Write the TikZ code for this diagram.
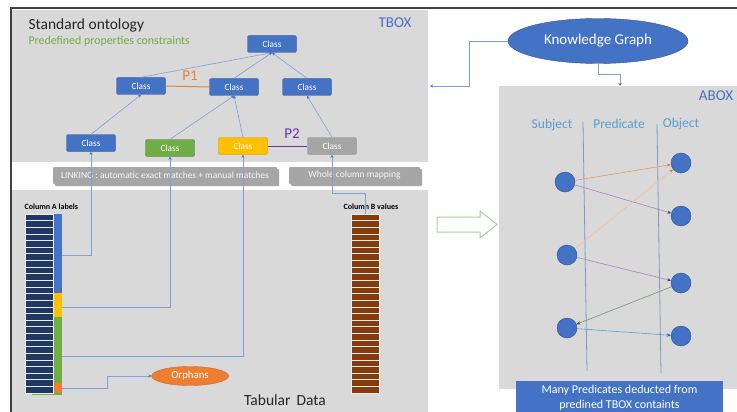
\documentclass[tikz,border=0pt]{standalone}
\usepackage{fontspec}
\setmainfont{Carlito}
\usetikzlibrary{arrows.meta,shapes.geometric}
\definecolor{cblue}{HTML}{4472C4}
\definecolor{cblued}{HTML}{2F528F}
\definecolor{cgreen}{HTML}{70AD47}
\definecolor{cyellow}{HTML}{FFC000}
\definecolor{cgray}{HTML}{A5A5A5}
\definecolor{corange}{HTML}{ED7D31}
\definecolor{cpurple}{HTML}{7030A0}
\definecolor{cnavy}{HTML}{1F3864}
\definecolor{cbrown}{HTML}{843C0C}
\definecolor{panel}{HTML}{D9D9D9}
\definecolor{connc}{HTML}{7F9FDA}
\definecolor{txtblue}{HTML}{5B9BD5}
\definecolor{lgreen}{HTML}{A9D18E}
\definecolor{framec}{HTML}{404040}
\definecolor{barc}{HTML}{A6A6A6}
\begin{document}
\begin{tikzpicture}[x=1pt,y=-1pt,
  cls/.style={rectangle,rounded corners=2pt,draw=cblued,fill=cblue,text=white,minimum width=49pt,minimum height=17pt,inner sep=0pt,font=\fontsize{9.3}{10}\selectfont},
  barbox/.style={rectangle,rounded corners=1pt,fill=barc,text=white!93!gray,minimum height=17pt,inner sep=0pt,font=\fontsize{9.5}{10}\selectfont},
  conn/.style={draw=connc,line width=0.6pt,-{Stealth[length=3pt,width=3pt,color=cblue]}},
  dot/.style={circle,fill=cblue,draw=cblued,line width=0.4pt,minimum size=20pt,inner sep=0pt},
  tri/.style={line width=0.6pt,-{Stealth[length=4pt,width=3.5pt]}},
  hdr/.style={text=txtblue,font=\fontsize{13.5}{15}\selectfont},
  rowa/.style={fill=cnavy,draw=white!85!gray,line width=0.6pt},
  rowb/.style={fill=cbrown,draw=white!85!gray,line width=0.6pt}
]
\useasboundingbox (0,0) rectangle (737,412);
\fill[white] (0,0) rectangle (737,412);
% panels
\fill[panel] (12,10) rectangle (428,162);
\fill[panel] (12,190) rectangle (428,412);
\fill[panel] (499,86) rectangle (737,389);
% frame
\draw[framec,line width=2pt] (10,8) -- (737,8);
\draw[framec,line width=1.5pt] (11,8) -- (11,412);

% TBOX texts
\node[anchor=west,font=\fontsize{15.5}{17}\selectfont,text=black!85] (std) at (25,25) {Standard ontology};
\node[anchor=west,font=\fontsize{11.9}{13}\selectfont,text=cgreen] (pre) at (25,41) {Predefined properties constraints};
\node[font=\fontsize{15}{17}\selectfont,text=cblue] (tbox) at (395,23) {TBOX};

% classes
\node[cls] (c0) at (272,44) {Class};
\node[cls] (c1) at (141,86) {Class};
\node[cls] (c2) at (234,87) {Class};
\node[cls] (c3) at (307,87) {Class};
\node[cls] (c4) at (91,143) {Class};
\node[cls,fill=cgreen,draw=cgreen!70!black] (cg) at (170,148) {Class};
\node[cls,fill=cyellow,draw=cyellow!80!black] (cy) at (243,146) {Class};
\node[cls,fill=cgray,draw=cgray!85!black] (cgr) at (332,146) {Class};

\draw[corange,line width=1pt] (c1.east) -- (c2.west);
\node[text=corange,font=\fontsize{15}{17}\selectfont] (p1) at (190,76) {P1};
\draw[cpurple,line width=1pt] (cy.east) -- (cgr.west);
\node[text=cpurple,font=\fontsize{15}{17}\selectfont] (p2) at (292,134) {P2};

\draw[conn] (c1.north) -- (c0.south);
\draw[conn] (c2.north) -- (c0.south);
\draw[conn] (c3.north) -- (c0.south);
\draw[conn] (c4.north) -- (c1.south);
\draw[conn] (cg.north) -- (c2.south);
\draw[conn] (cy.north) -- (c2.south);
\draw[conn] (cgr.north) -- (c3.south);

% linking bars
\fill[black!35,rounded corners=1pt] (55,169) rectangle (279,186);
\node[barbox,minimum width=224pt] (link) at (165,175.5) {LINKING : automatic exact matches + manual matches};
\fill[black!35,rounded corners=1pt] (291,169) rectangle (422,186);
\node[barbox,minimum width=131pt] (whole) at (354.5,175.5) {Whole column mapping};

% column A
\node[anchor=west,font=\bfseries\fontsize{8}{9}\selectfont] (cola) at (21,207) {Column A labels};
\fill[cgreen] (32,392) rectangle (62,395);
\foreach \i in {0,...,26} {
  \draw[rowa] (25,{214+\i*6.63}) rectangle (53,{214+(\i+1)*6.63});
  \draw[rowb] (351,{214+\i*6.63}) rectangle (379,{214+(\i+1)*6.63});
}
\fill[cblue] (54,214) rectangle (62,293);
\fill[cyellow] (54,293) rectangle (62,317);
\fill[cgreen] (54,317) rectangle (62,383);
\fill[corange] (54,383) rectangle (62,393);
\node[anchor=west,font=\bfseries\fontsize{8}{9}\selectfont] (colb) at (340,207) {Column B values};

\coordinate (ablue) at (62,255);
\coordinate (ayel) at (62,307);
\coordinate (agrn) at (62,356);
\coordinate (aorg) at (62,388);
\coordinate (btop) at (365,214);

\node[ellipse,fill=corange,draw=corange!85!black,line width=0.4pt,minimum width=77pt,minimum height=19pt,inner sep=0pt,text=white,font=\fontsize{10.8}{12}\selectfont] (orph) at (190,376) {Orphans};

\draw[conn] (ablue) -| (c4.south);
\draw[conn] (ayel) -| (cg.south);
\draw[conn] (agrn) -| (cy.south);
\draw[conn] (aorg) -- ++(45,0) |- (orph.west);
\draw[conn] (btop) -- ++(0,-21) -| (cgr.south);

\node[font=\fontsize{15.5}{17}\selectfont,text=black!85] (tab) at (285,400) {Tabular\, Data};

% Knowledge graph
\node[ellipse,fill=cblue,draw=cblued,line width=0.4pt,minimum width=180pt,minimum height=45pt,inner sep=0pt,text=white,font=\fontsize{15}{17}\selectfont] (kg) at (598,41) {Knowledge Graph};
\coordinate (tboxr) at (430,86);
\coordinate (aboxt) at (620,86);
\draw[conn] (kg.west) -- (469,41) -- (469,86) -- (tboxr);
\draw[conn] (kg.south) -- ++(0,11) -| (aboxt);

% ABOX
\node[font=\fontsize{15}{17}\selectfont,text=cblue] (abox) at (716,96) {ABOX};
\node[hdr] (subj) at (552,125) {Subject};
\node[hdr] (pred) at (619,124) {Predicate};
\node[hdr] (obj) at (681,124) {Object};
\draw[connc!80!gray,line width=0.8pt] (583,122) -- (587,371);
\draw[connc!80!gray,line width=0.8pt] (657,124) -- (661,373);

\node[dot] (s1) at (565,182) {};
\node[dot] (s2) at (567,255) {};
\node[dot] (s3) at (567,328) {};
\node[dot] (o1) at (681,163) {};
\node[dot] (o2) at (681,216) {};
\node[dot] (o3) at (681,283) {};
\node[dot] (o4) at (681,336) {};

\draw[tri,draw=corange!80!white,-{Stealth[length=4pt,width=3.5pt,color=corange]}] (s1) -- (o1);
\draw[tri,draw=cpurple!60!white,-{Stealth[length=4pt,width=3.5pt,color=cpurple]}] (s1) -- (o2);
\draw[tri,draw=corange!50!white,-{Stealth[length=4pt,width=3.5pt,color=corange]}] (s2) -- (o1);
\draw[tri,draw=cpurple!60!white,-{Stealth[length=4pt,width=3.5pt,color=cpurple]}] (s2) -- (o3);
\draw[tri,draw=cgreen!60!black!70!white,-{Stealth[length=4pt,width=3.5pt,color=cgreen!50!black]}] (o3) -- (s3);
\draw[tri,draw=txtblue,-{Stealth[length=4pt,width=3.5pt,color=blue!60!cyan]}] (s3) -- (o4);

\node[rectangle,fill=cblue,text=white,minimum width=207pt,minimum height=33pt,inner sep=0pt,align=center,font=\fontsize{12}{14.5}\selectfont,anchor=north] (many) at (619.5,381) {Many Predicates deducted from\\predined TBOX containts};

% hollow green arrow
\draw[lgreen,line width=1pt,fill=white] (437,217) -- (480,217) -- (480,211) -- (497,224.5) -- (480,238) -- (480,232) -- (437,232) -- cycle;
\end{tikzpicture}
\end{document}
